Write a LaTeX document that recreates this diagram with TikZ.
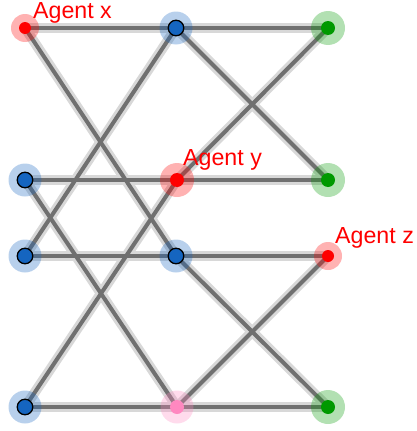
\documentclass[tikz,border=0pt]{standalone}
\usepackage{fontspec}
\setmainfont{Liberation Sans}
\definecolor{nodeblue}{HTML}{1565C0}
\definecolor{nodered}{HTML}{FF0000}
\definecolor{nodegreen}{HTML}{009900}
\definecolor{nodepink}{HTML}{FF88C0}
\definecolor{edgecore}{HTML}{707070}
\definecolor{edgecase}{HTML}{D8D8D8}
\tikzset{
  halo/.style={circle, inner sep=0pt, minimum size=#1, draw=none, fill opacity=0.3},
  dot/.style={circle, inner sep=0pt, minimum size=#1},
  casing/.style={draw=edgecase, line width=10pt},
  core/.style={draw=edgecore, line width=4pt},
  agentlabel/.style={text=nodered, font=\fontsize{23.2}{24}\selectfont, anchor=base west, inner sep=0pt}
}
\begin{document}
\begin{tikzpicture}[x=1pt,y=-1pt]
\useasboundingbox (0,0) rectangle (416,431);
% vertex positions
\coordinate (x)  at (25,28);
\coordinate (b1) at (176,28);
\coordinate (g1) at (328,28);
\coordinate (b2) at (25,180);
\coordinate (y)  at (177,180);
\coordinate (g2) at (328,180);
\coordinate (b3) at (25,256);
\coordinate (b4) at (176,256);
\coordinate (z)  at (328,256);
\coordinate (b5) at (25,407);
\coordinate (p)  at (177,407);
\coordinate (g3) at (328,407);
% edges: light casing first, dark core on top
\foreach \st in {casing,core}{
  \draw[\st] (x) -- (b1) -- (g1);
  \draw[\st] (b2) -- (y) -- (g2);
  \draw[\st] (b3) -- (b4) -- (z);
  \draw[\st] (b5) -- (p) -- (g3);
  \draw[\st] (x) -- (b4);
  \draw[\st] (b1) -- (b3);
  \draw[\st] (b1) -- (g2);
  \draw[\st] (g1) -- (y);
  \draw[\st] (b2) -- (p);
  \draw[\st] (y) -- (b5);
  \draw[\st] (b4) -- (g3);
  \draw[\st] (z) -- (p);
}
% translucent halos
\node[halo=28pt, fill=nodered]   (hx)  at (x)  {};
\node[halo=33pt, fill=nodeblue]  (hb1) at (b1) {};
\node[halo=34pt, fill=nodegreen] (hg1) at (g1) {};
\node[halo=33pt, fill=nodeblue]  (hb2) at (b2) {};
\node[halo=34pt, fill=nodered]   (hy)  at (y)  {};
\node[halo=34pt, fill=nodegreen] (hg2) at (g2) {};
\node[halo=33pt, fill=nodeblue]  (hb3) at (b3) {};
\node[halo=33pt, fill=nodeblue]  (hb4) at (b4) {};
\node[halo=28pt, fill=nodered]   (hz)  at (z)  {};
\node[halo=33pt, fill=nodeblue]  (hb5) at (b5) {};
\node[halo=33pt, fill=nodepink]  (hp)  at (p)  {};
\node[halo=34pt, fill=nodegreen] (hg3) at (g3) {};
% vertex dots
\node[dot=12pt, fill=nodered] (dx) at (x) {};
\node[dot=15.5pt, fill=nodeblue, draw=black, line width=1.3pt] (db1) at (b1) {};
\node[dot=14pt, fill=nodegreen] (dg1) at (g1) {};
\node[dot=15.5pt, fill=nodeblue, draw=black, line width=1.3pt] (db2) at (b2) {};
\node[dot=14pt, fill=nodered] (dy) at (y) {};
\node[dot=14pt, fill=nodegreen] (dg2) at (g2) {};
\node[dot=15.5pt, fill=nodeblue, draw=black, line width=1.3pt] (db3) at (b3) {};
\node[dot=15.5pt, fill=nodeblue, draw=black, line width=1.3pt] (db4) at (b4) {};
\node[dot=12pt, fill=nodered] (dz) at (z) {};
\node[dot=15.5pt, fill=nodeblue, draw=black, line width=1.3pt] (db5) at (b5) {};
\node[dot=14pt, fill=nodepink] (dp) at (p) {};
\node[dot=14pt, fill=nodegreen] (dg3) at (g3) {};
% agent labels
\node[agentlabel] (lx) at (33,18.5)  {Agent x};
\node[agentlabel] (ly) at (183,165) {Agent y};
\node[agentlabel] (lz) at (335,243) {Agent z};
\end{tikzpicture}
\end{document}
